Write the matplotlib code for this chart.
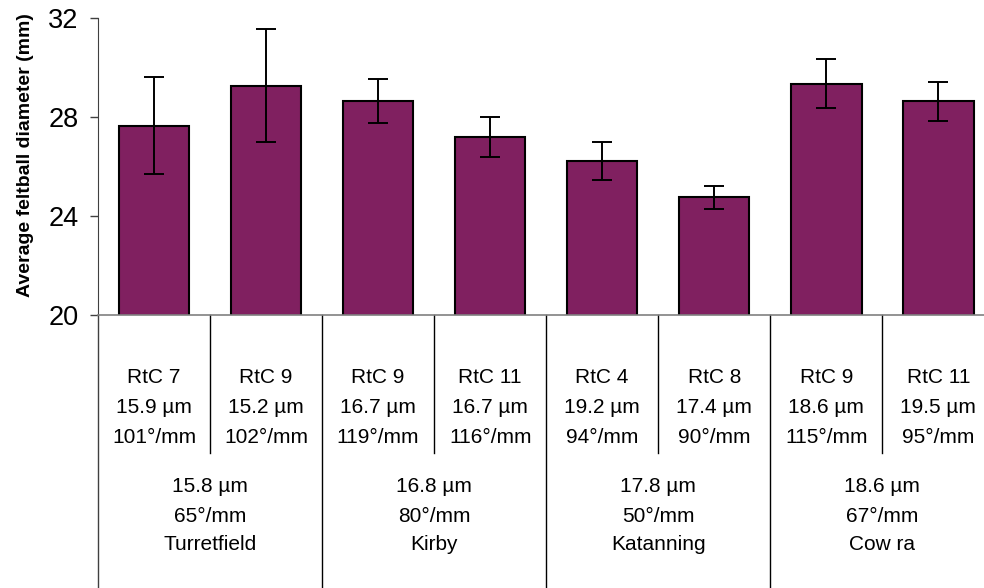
import matplotlib.pyplot as plt
import matplotlib.transforms as mtransforms

plt.rcParams['font.family'] = ['Liberation Sans', 'DejaVu Sans']

# bar data
means = [27.65, 29.27, 28.65, 27.19, 26.21, 24.75, 29.35, 28.63]
errors = [1.95, 2.3, 0.9, 0.81, 0.77, 0.45, 1.0, 0.78]
lines1 = ["RtC 7", "RtC 9", "RtC 9", "RtC 11", "RtC 4", "RtC 8", "RtC 9", "RtC 11"]
lines2 = ["15.9 µm", "15.2 µm", "16.7 µm", "16.7 µm", "19.2 µm", "17.4 µm", "18.6 µm", "19.5 µm"]
lines3 = ["101°/mm", "102°/mm", "119°/mm", "116°/mm", "94°/mm", "90°/mm", "115°/mm", "95°/mm"]

# group data
group_diam = ["15.8 µm", "16.8 µm", "17.8 µm", "18.6 µm"]
group_crimp = ["65°/mm", "80°/mm", "50°/mm", "67°/mm"]
group_site = ["Turretfield", "Kirby", "Katanning", "Cow ra"]

fig = plt.figure(figsize=(9.84, 5.88), dpi=100)
ax = fig.add_axes([98 / 984, 273 / 588, 896.3 / 984, 297 / 588])

x = list(range(len(means)))
ax.bar(x, means, width=0.63, bottom=0, color='#802060', edgecolor='black',
       linewidth=1.5, zorder=2)
ax.errorbar(x, means, yerr=errors, fmt='none', ecolor='black', elinewidth=1.4,
            capsize=7.5, capthick=1.4, zorder=3)

ax.set_xlim(-0.5, 7.5)
ax.set_ylim(20, 32)
ax.set_yticks([20, 24, 28, 32])
ax.tick_params(axis='y', labelsize=19.5, length=6, width=1, color='#404040', pad=8)
ax.tick_params(axis='x', bottom=False, labelbottom=False)
for s in ['top', 'right']:
    ax.spines[s].set_visible(False)
ax.spines['left'].set_color('#404040')
ax.spines['bottom'].set_color('#808080')
ax.spines['bottom'].set_linewidth(1.2)

trans = mtransforms.blended_transform_factory(ax.transData, ax.transAxes)

# dividers under the axis
for i in range(9):
    xd = i - 0.5
    if i % 2 == 0:
        ybot = -0.93
        col = '#404040' if i == 0 else 'black'
    else:
        ybot = -0.465
        col = 'black'
    ax.plot([xd, xd], [0, ybot], transform=trans, color=col, lw=1.0,
            clip_on=False)

y1 = [-0.209, -0.313, -0.411]
for i in x:
    for yy, txt in zip(y1, [lines1[i], lines2[i], lines3[i]]):
        ax.text(i, yy, txt, transform=trans, ha='center', va='center',
                fontsize=15)

y2 = [-0.576, -0.677, -0.774]
for g in range(4):
    xc = 2 * g + 0.5
    for yy, txt in zip(y2, [group_diam[g], group_crimp[g], group_site[g]]):
        ax.text(xc, yy, txt, transform=trans, ha='center', va='center',
                fontsize=15)

fig.text(26 / 984, 1 - 155 / 588, "Average feltball diameter (mm)", rotation=90,
         ha='center', va='center', fontsize=14, fontweight='bold')

fig.savefig("out.png", dpi=100)
